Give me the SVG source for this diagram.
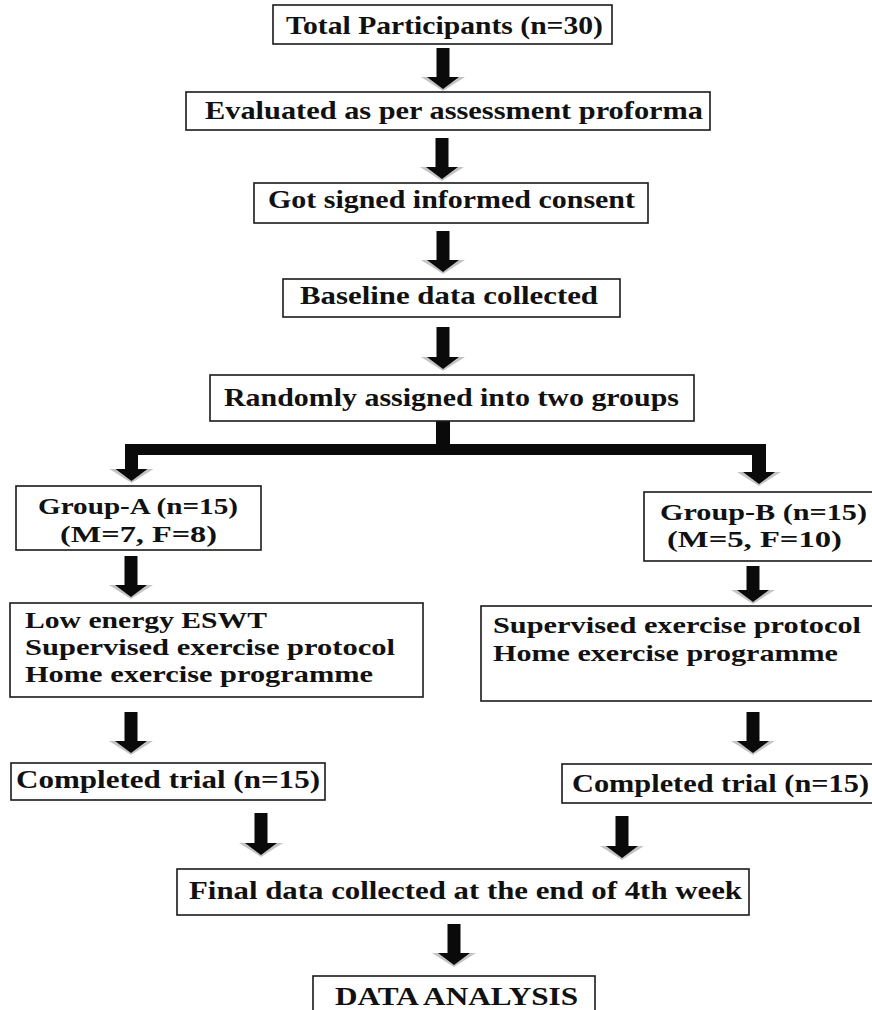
<svg xmlns="http://www.w3.org/2000/svg" width="872" height="1010" viewBox="0 0 872 1010">
<style>
.box{fill:#fff;stroke:#1a1a1a;stroke-width:1.6}
.t{font-family:"Liberation Serif","Times New Roman",serif;font-weight:bold;font-size:26px;fill:#111}
.s{font-size:24px}
.ar{fill:#0a0a0a}
.fr{fill:#c4c4c4}
</style>
<rect width="872" height="1010" fill="#fff"/>
<g id="connectors">
  <polygon class="fr" points="421,77 465,77 443,91"/>
  <polygon class="ar" points="436.5,48 449.5,48 449.5,77 459,77 443,89 427,77 436.5,77"/>
  <polygon class="fr" points="420,167 464,167 442,181"/>
  <polygon class="ar" points="435.5,138 448.5,138 448.5,167 458,167 442,179 426,167 435.5,167"/>
  <polygon class="fr" points="421,260 465,260 443,274"/>
  <polygon class="ar" points="436.5,231 449.5,231 449.5,260 459,260 443,272 427,260 436.5,260"/>
  <polygon class="fr" points="421,357 465,357 443,371"/>
  <polygon class="ar" points="436.5,327 449.5,327 449.5,357 459,357 443,369 427,357 436.5,357"/>
  <rect class="ar" x="436" y="421" width="14" height="25"/>
  <rect class="ar" x="125" y="444" width="641" height="11"/>
  <polygon class="fr" points="109.5,469 153.5,469 131.5,483"/>
  <polygon class="ar" points="125,454 138,454 138,469 147.5,469 131.5,481 115.5,469 125,469"/>
  <polygon class="fr" points="737,472 781,472 759,486"/>
  <polygon class="ar" points="752,454 766,454 766,472 775,472 759,484 743,472 752,472"/>
  <polygon class="fr" points="109,585 153,585 131,599"/>
  <polygon class="ar" points="124.5,556 137.5,556 137.5,585 147,585 131,597 115,585 124.5,585"/>
  <polygon class="fr" points="731,590 775,590 753,604"/>
  <polygon class="ar" points="746.5,566 759.5,566 759.5,590 769,590 753,602 737,590 746.5,590"/>
  <polygon class="fr" points="109,741 153,741 131,755"/>
  <polygon class="ar" points="124.5,712 137.5,712 137.5,741 147,741 131,753 115,741 124.5,741"/>
  <polygon class="fr" points="731,741 775,741 753,755"/>
  <polygon class="ar" points="746.5,712 759.5,712 759.5,741 769,741 753,753 737,741 746.5,741"/>
  <polygon class="fr" points="239,843 283,843 261,857"/>
  <polygon class="ar" points="254.5,813 267.5,813 267.5,843 277,843 261,855 245,843 254.5,843"/>
  <polygon class="fr" points="600,846 644,846 622,860"/>
  <polygon class="ar" points="615.5,816 628.5,816 628.5,846 638,846 622,858 606,846 615.5,846"/>
  <polygon class="fr" points="432,953 476,953 454,967"/>
  <polygon class="ar" points="447.5,924 460.5,924 460.5,953 470,953 454,965 438,953 447.5,953"/>
</g>
<g id="total">
  <rect class="box" x="273" y="5" width="339" height="39"/>
  <text class="t" x="286" y="34" textLength="317" lengthAdjust="spacingAndGlyphs">Total Participants (n=30)</text>
</g>
<g id="evaluated">
  <rect class="box" x="186" y="92" width="524" height="38"/>
  <text class="t" x="205" y="119" textLength="498" lengthAdjust="spacingAndGlyphs">Evaluated as per assessment proforma</text>
</g>
<g id="consent">
  <rect class="box" x="254" y="183" width="394" height="40"/>
  <text class="t" x="268" y="208" textLength="367" lengthAdjust="spacingAndGlyphs">Got signed informed consent</text>
</g>
<g id="baseline">
  <rect class="box" x="283" y="279" width="337" height="38"/>
  <text class="t" x="300" y="304" textLength="298" lengthAdjust="spacingAndGlyphs">Baseline data collected</text>
</g>
<g id="randomly">
  <rect class="box" x="210" y="375" width="484" height="46"/>
  <text class="t" x="224" y="406" textLength="455" lengthAdjust="spacingAndGlyphs">Randomly assigned into two groups</text>
</g>
<g id="groupA">
  <rect class="box" x="16" y="486" width="245" height="64"/>
  <text class="t s" x="38" y="514" textLength="200" lengthAdjust="spacingAndGlyphs">Group-A (n=15)</text>
  <text class="t s" x="60" y="542" textLength="157" lengthAdjust="spacingAndGlyphs">(M=7, F=8)</text>
</g>
<g id="groupB">
  <rect class="box" x="644" y="492" width="232" height="69"/>
  <text class="t s" x="660" y="520" textLength="207" lengthAdjust="spacingAndGlyphs">Group-B (n=15)</text>
  <text class="t s" x="667" y="547" textLength="175" lengthAdjust="spacingAndGlyphs">(M=5, F=10)</text>
</g>
<g id="treatmentA">
  <rect class="box" x="10" y="603" width="413" height="94"/>
  <text class="t s" x="25" y="628" textLength="242" lengthAdjust="spacingAndGlyphs">Low energy ESWT</text>
  <text class="t s" x="25" y="655" textLength="370" lengthAdjust="spacingAndGlyphs">Supervised exercise protocol</text>
  <text class="t s" x="25" y="682" textLength="348" lengthAdjust="spacingAndGlyphs">Home exercise programme</text>
</g>
<g id="treatmentB">
  <rect class="box" x="481" y="606" width="395" height="95"/>
  <text class="t s" x="493" y="633" textLength="368" lengthAdjust="spacingAndGlyphs">Supervised exercise protocol</text>
  <text class="t s" x="493" y="661" textLength="345" lengthAdjust="spacingAndGlyphs">Home exercise programme</text>
</g>
<g id="completedA">
  <rect class="box" x="11" y="763" width="314" height="37"/>
  <text class="t" x="16" y="788" textLength="304" lengthAdjust="spacingAndGlyphs">Completed trial (n=15)</text>
</g>
<g id="completedB">
  <rect class="box" x="562" y="764" width="314" height="39"/>
  <text class="t" x="572" y="792" textLength="297" lengthAdjust="spacingAndGlyphs">Completed trial (n=15)</text>
</g>
<g id="final">
  <rect class="box" x="177" y="869" width="572" height="46"/>
  <text class="t" x="189" y="899" textLength="553" lengthAdjust="spacingAndGlyphs">Final data collected at the end of 4th week</text>
</g>
<g id="analysis">
  <rect class="box" x="313" y="976" width="282" height="40"/>
  <text class="t" x="335" y="1005" textLength="243" lengthAdjust="spacingAndGlyphs">DATA ANALYSIS</text>
</g>
</svg>
